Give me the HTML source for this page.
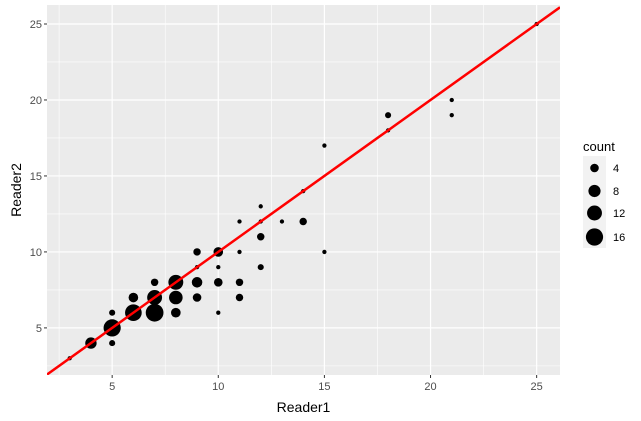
<!DOCTYPE html>
<html><head><meta charset="utf-8"><style>
body{margin:0;background:#fff;}
svg{display:block;font-family:"Liberation Sans",sans-serif;}
</style></head><body>
<svg id="c" width="641" height="421"></svg>
<script>
const xs=[3,4,5,5,5,6,6,7,7,7,8,8,8,9,9,9,9,10,10,10,10,11,11,11,11,12,12,12,12,13,14,14,15,15,18,18,21,21,25];
const ys=[3,4,5,6,4,6,7,6,7,8,8,7,6,8,7,10,9,10,8,9,6,10,8,7,12,11,9,12,13,12,12,14,17,10,19,18,20,19,25];
const counts=[1,7,16,2,2,15,5,17,12,3,12,10,5,6,4,3,1,5,4,1,1,1,3,3,1,3,2,1,1,1,3,1,1,1,2,1,1,1,1];
const ticks=[5,10,15,20,25];
const minorTicks=[2.5,7.5,12.5,17.5,22.5];
const legendCounts=[4,8,12,16];
const NS="http://www.w3.org/2000/svg";
const svg=document.getElementById('c');
const L=47,R=560,T=5,B=375,xmin=1.93,xmax=26.1,ymin=1.9,ymax=26.25;
const sx=v=>L+(v-xmin)/(xmax-xmin)*(R-L);
const sy=v=>B-(v-ymin)/(ymax-ymin)*(B-T);
const rs=c=>2.15*Math.sqrt(c);
function el(t,a,p){const e=document.createElementNS(NS,t);for(const k in a)e.setAttribute(k,a[k]);(p||svg).appendChild(e);return e;}
const bg=el('rect',{x:L,y:T,width:R-L,height:B-T,fill:'#EBEBEB'});


minorTicks.forEach(v=>{
 const a=el('line',{x1:sx(v),x2:sx(v),y1:T,y2:B,stroke:'#fff','stroke-width':0.6});
 
 const b=el('line',{x1:L,x2:R,y1:sy(v),y2:sy(v),stroke:'#fff','stroke-width':0.6});
 
});
ticks.forEach(v=>{
 const a=el('line',{x1:sx(v),x2:sx(v),y1:T,y2:B,stroke:'#fff','stroke-width':1.2});
 
 const b=el('line',{x1:L,x2:R,y1:sy(v),y2:sy(v),stroke:'#fff','stroke-width':1.2});
 
 const tx=el('line',{x1:sx(v),x2:sx(v),y1:B,y2:B+3,stroke:'#333','stroke-width':1});
 
 const ty=el('line',{x1:L-3,x2:L,y1:sy(v),y2:sy(v),stroke:'#333','stroke-width':1});
 
 const lx=el('text',{x:sx(v),y:B+15,'text-anchor':'middle','font-size':11,fill:'#4D4D4D'});lx.textContent=v;
 
 const ly=el('text',{x:L-5,y:sy(v)+4,'text-anchor':'end','font-size':11,fill:'#4D4D4D'});ly.textContent=v;
 
});
xs.forEach((x,i)=>{
 const c=el('circle',{cx:sx(x),cy:sy(ys[i]),r:rs(counts[i]),fill:'#000'});
 
 
});
const g=el('g',{'clip-path':'url(#clp)'});
const cp=el('clipPath',{id:'clp'});el('rect',{x:L,y:T,width:R-L,height:B-T},cp);
const ln=el('line',{x1:sx(xmin),y1:sy(xmin),x2:sx(xmax),y2:sy(xmax),stroke:'#FF0000','stroke-width':2.5},g);


const xt=el('text',{x:(L+R)/2,y:412,'text-anchor':'middle','font-size':14,fill:'#000'});xt.textContent='Reader1';

const yt=el('text',{x:0,y:0,transform:'translate(21,'+(T+B)/2+') rotate(-90)','text-anchor':'middle','font-size':14,fill:'#000'});yt.textContent='Reader2';

const lt=el('text',{x:583,y:151,'font-size':13,fill:'#000'});lt.textContent='count';

const lb=el('rect',{x:583,y:156,width:23,height:92,fill:'#F2F2F2'});

const ly0=[168,191,213,237];
legendCounts.forEach((c,i)=>{
 const k=el('circle',{cx:594.5,cy:ly0[i],r:rs(c),fill:'#000'});
 
 const t=el('text',{x:613,y:ly0[i]+4,'font-size':11,fill:'#000'});t.textContent=c;
 
});
</script>
</body></html>
